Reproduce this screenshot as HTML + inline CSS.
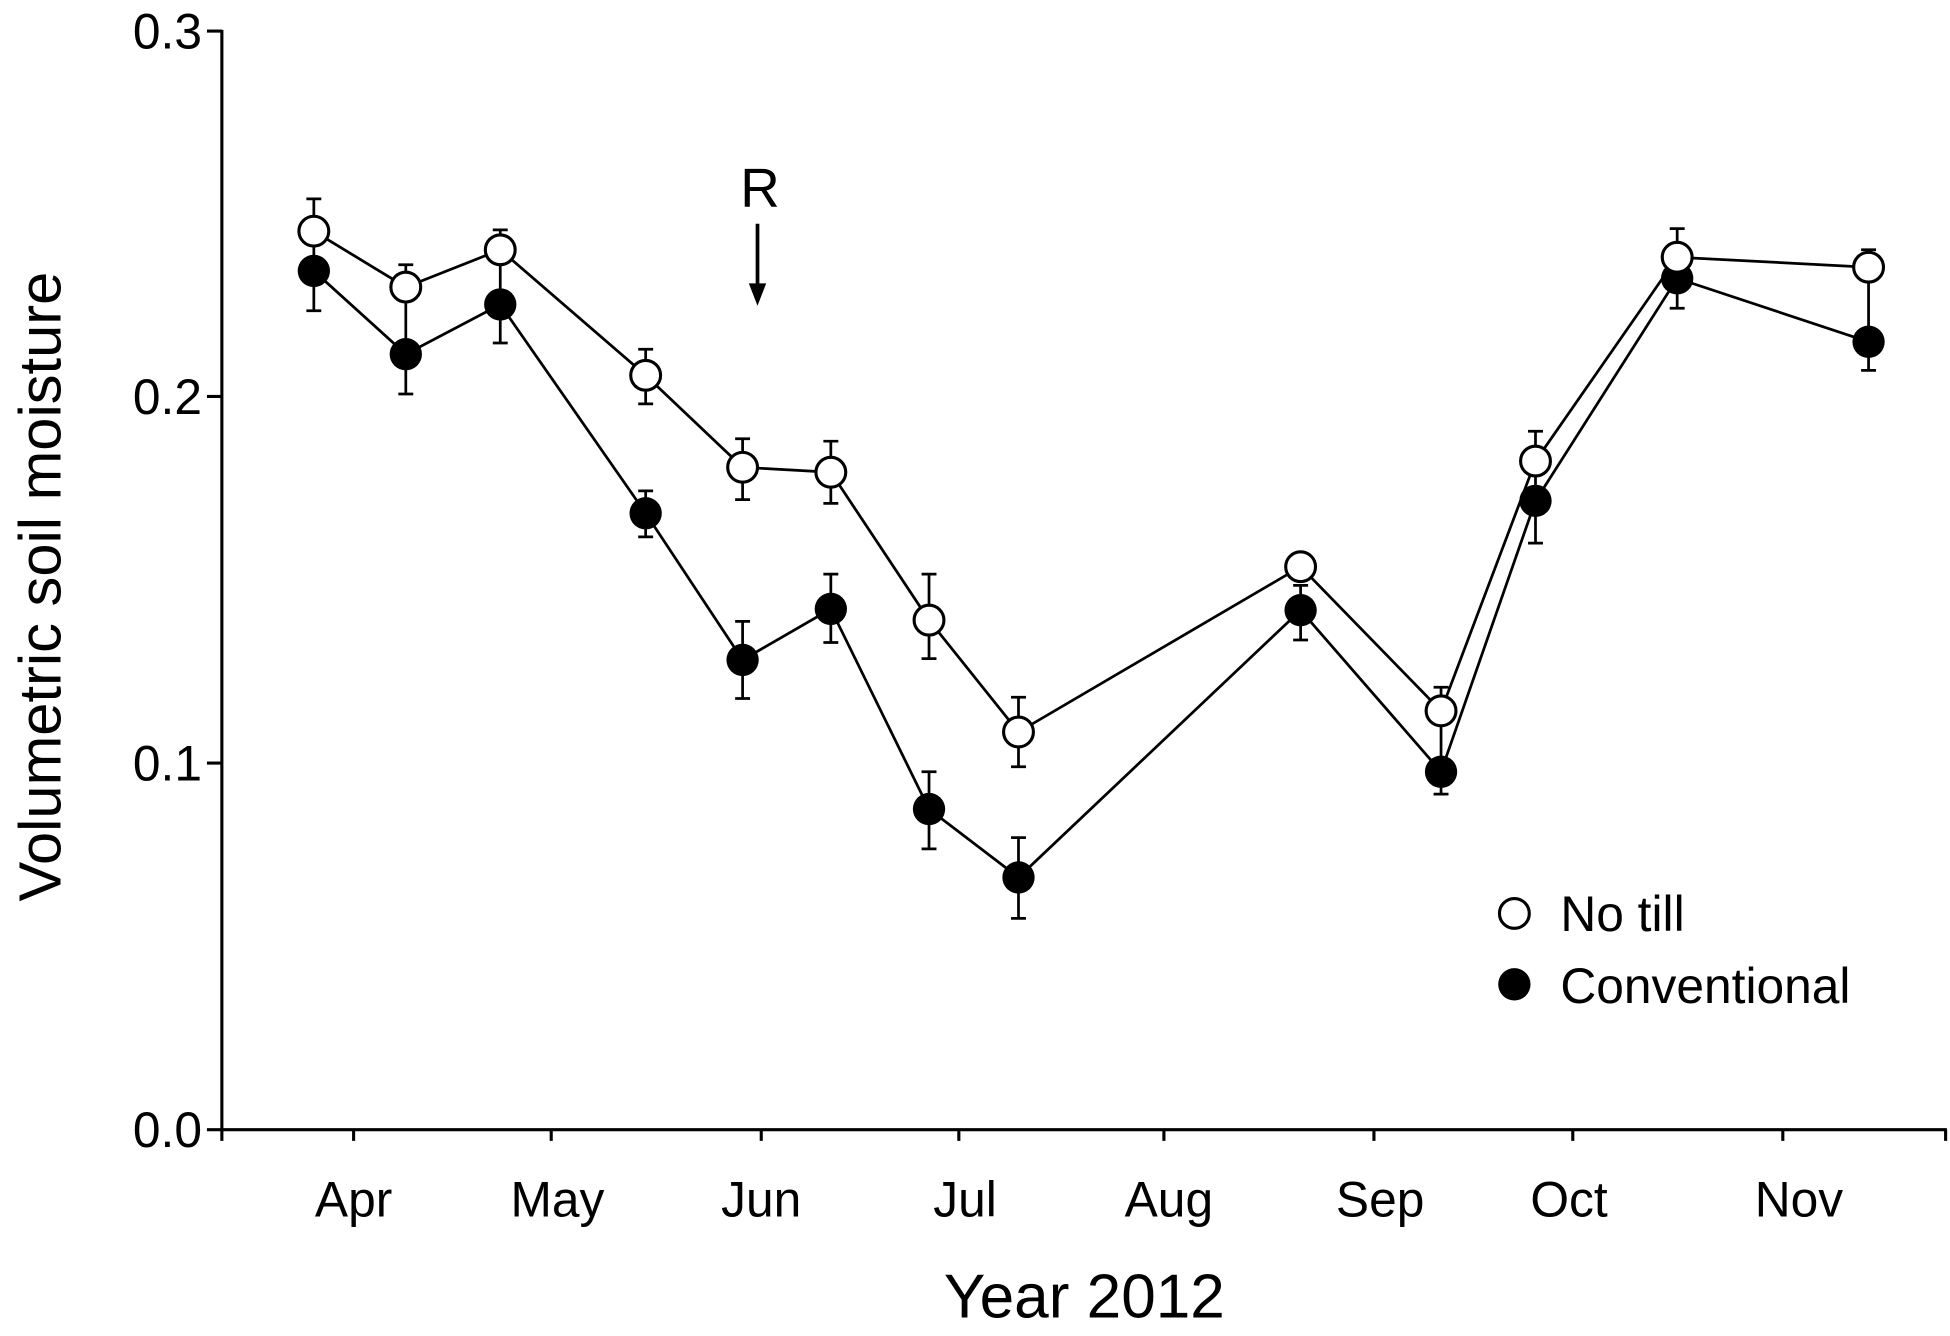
<!DOCTYPE html>
<html><head><meta charset="utf-8"><style>
html,body{margin:0;padding:0;background:#fff;}
svg{display:block;}
text{font-family:"Liberation Sans",sans-serif;fill:#000;}
</style></head><body>
<svg width="1950" height="1336" viewBox="0 0 1568 1075" xmlns="http://www.w3.org/2000/svg">
<g stroke="#000" stroke-width="2.5" fill="none">
<line x1="178" y1="24" x2="178" y2="910"/>
<line x1="178" y1="909" x2="1566" y2="909"/>
<line x1="166" y1="25" x2="178" y2="25"/>
<line x1="166" y1="319" x2="178" y2="319"/>
<line x1="166" y1="614" x2="178" y2="614"/>
<line x1="166" y1="909" x2="178" y2="909"/>
<line x1="178" y1="909" x2="178" y2="918"/>
<line x1="284" y1="909" x2="284" y2="918"/>
<line x1="443" y1="909" x2="443" y2="918"/>
<line x1="612" y1="909" x2="612" y2="918"/>
<line x1="771" y1="909" x2="771" y2="918"/>
<line x1="936" y1="909" x2="936" y2="918"/>
<line x1="1105" y1="909" x2="1105" y2="918"/>
<line x1="1265" y1="909" x2="1265" y2="918"/>
<line x1="1434" y1="909" x2="1434" y2="918"/>
<line x1="1565" y1="909" x2="1565" y2="918"/>
</g>
<g font-size="40" text-anchor="end">
<text x="162" y="39">0.3</text>
<text x="162" y="333">0.2</text>
<text x="162" y="628">0.1</text>
<text x="162" y="923">0.0</text>
</g>
<g font-size="40" text-anchor="middle">
<text x="284" y="979">Apr</text>
<text x="448" y="979">May</text>
<text x="612" y="979">Jun</text>
<text x="776" y="979">Jul</text>
<text x="940" y="979">Aug</text>
<text x="1110" y="979">Sep</text>
<text x="1262" y="979">Oct</text>
<text x="1447" y="979">Nov</text>
</g>
<text x="872" y="1060" font-size="50" text-anchor="middle">Year 2012</text>
<text transform="translate(48,472) rotate(-90)" font-size="48" text-anchor="middle">Volumetric soil moisture</text>
<text x="611" y="166" font-size="44" text-anchor="middle">R</text>
<line x1="609" y1="180" x2="609" y2="232" stroke="#000" stroke-width="3"/>
<polygon points="602,228 616,228 609,246" fill="#000"/>
<g stroke="#000" stroke-width="2.2" fill="none">
<path d="M252,160V250 M246,160h12 M246,250h12
M326,213V317 M320,213h12 M320,317h12
M402,185V276 M396,185h12 M396,276h12
M519,281V325 M513,281h12 M513,325h12 M519,395V432 M513,395h12 M513,432h12
M597,353V402 M591,353h12 M591,402h12 M597,500V562 M591,500h12 M591,562h12
M668,355V405 M662,355h12 M662,405h12 M668,462V517 M662,462h12 M662,517h12
M747,462V530 M741,462h12 M741,530h12 M747,621V683 M741,621h12 M741,683h12
M819,561V617 M813,561h12 M813,617h12 M819,674V739 M813,674h12 M813,739h12
M1046,471V515 M1040,471h12 M1040,515h12
M1159,553V639 M1153,553h12 M1153,639h12
M1235,347V437 M1229,347h12 M1229,437h12
M1349,184V248 M1343,184h12 M1343,248h12
M1503,201V298 M1497,201h12 M1497,298h12"/>
<polyline points="252,186 326,231 402,201 519,302 597,376 668,380 747,499 819,589 1046,456 1159,572 1235,371 1349,207 1503,215"/>
<polyline points="252,218 326,285 402,245 519,413 597,531 668,490 747,651 819,706 1046,491 1159,621 1235,403 1349,224 1503,275"/>
</g>
<g fill="#000">
<circle cx="252" cy="218" r="13"/><circle cx="326" cy="285" r="13"/><circle cx="402" cy="245" r="13"/><circle cx="519" cy="413" r="13"/><circle cx="597" cy="531" r="13"/><circle cx="668" cy="490" r="13"/><circle cx="747" cy="651" r="13"/><circle cx="819" cy="706" r="13"/><circle cx="1046" cy="491" r="13"/><circle cx="1159" cy="621" r="13"/><circle cx="1235" cy="403" r="13"/><circle cx="1349" cy="224" r="13"/><circle cx="1503" cy="275" r="13"/>
</g>
<g fill="#fff" stroke="#000" stroke-width="2.5">
<circle cx="252" cy="186" r="12"/><circle cx="326" cy="231" r="12"/><circle cx="402" cy="201" r="12"/><circle cx="519" cy="302" r="12"/><circle cx="597" cy="376" r="12"/><circle cx="668" cy="380" r="12"/><circle cx="747" cy="499" r="12"/><circle cx="819" cy="589" r="12"/><circle cx="1046" cy="456" r="12"/><circle cx="1159" cy="572" r="12"/><circle cx="1235" cy="371" r="12"/><circle cx="1349" cy="207" r="12"/><circle cx="1503" cy="215" r="12"/>
<circle cx="1218" cy="735" r="12"/>
</g>
<circle cx="1218" cy="792" r="13" fill="#000"/>
<text x="1255" y="749" font-size="40">No till</text>
<text x="1255" y="807" font-size="40">Conventional</text>
</svg>
</body></html>
